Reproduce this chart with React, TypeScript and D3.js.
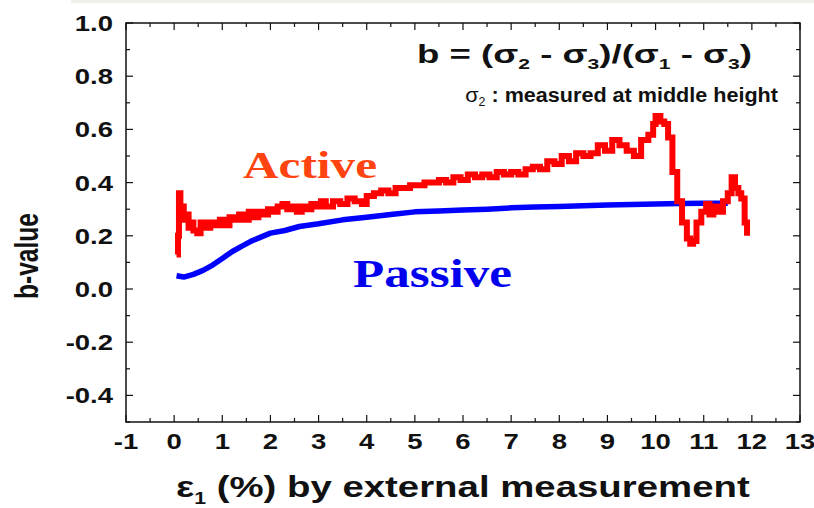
import React, { useEffect, useRef } from "react";
import * as d3 from "d3";

// Active curve (red): strain %, b-value
const activeX = [
  0.05, 0.08, 0.1, 0.13, 0.16, 0.2, 0.25, 0.3, 0.35, 0.4, 0.48, 0.55, 0.65, 0.75, 0.85, 0.95,
  1.05, 1.15, 1.25, 1.35, 1.45, 1.55, 1.65, 1.75, 1.85, 1.95, 2.05, 2.15, 2.25, 2.35, 2.45,
  2.55, 2.65, 2.75, 2.85, 2.95, 3.05, 3.15, 3.3, 3.45, 3.6, 3.75, 3.9, 4.0, 4.15, 4.3, 4.45,
  4.6, 4.75, 4.9, 5.05, 5.2, 5.35, 5.5, 5.65, 5.8, 5.95, 6.1, 6.25, 6.4, 6.55, 6.7, 6.85,
  7.0, 7.15, 7.3, 7.45, 7.6, 7.75, 7.9, 8.05, 8.2, 8.35, 8.5, 8.65, 8.8, 8.95, 9.1, 9.25,
  9.4, 9.55, 9.7, 9.85, 9.95, 10.0, 10.1, 10.18, 10.26, 10.35, 10.45, 10.55, 10.65, 10.72,
  10.78, 10.85, 10.95, 11.05, 11.12, 11.2, 11.3, 11.4, 11.5, 11.58, 11.65, 11.72, 11.78,
  11.85, 11.9,
];
const activeY = [
  0.13, 0.2, 0.36, 0.27, 0.31, 0.26, 0.28, 0.23, 0.25, 0.22, 0.21, 0.25, 0.23, 0.25, 0.24, 0.26,
  0.24, 0.27, 0.26, 0.28, 0.26, 0.29, 0.27, 0.29, 0.28, 0.3, 0.29, 0.31, 0.32, 0.3, 0.31,
  0.29, 0.31, 0.3, 0.32, 0.31, 0.33, 0.31, 0.33, 0.32, 0.34, 0.33, 0.32, 0.35, 0.36, 0.37, 0.36,
  0.38, 0.38, 0.39, 0.39, 0.4, 0.4, 0.41, 0.4, 0.42, 0.41, 0.43, 0.42, 0.43, 0.42, 0.44, 0.43,
  0.44, 0.43, 0.45, 0.46, 0.45, 0.48, 0.47, 0.5, 0.48, 0.51, 0.5, 0.51, 0.54, 0.52, 0.56, 0.54,
  0.52, 0.5, 0.56, 0.58, 0.62, 0.65, 0.63, 0.62, 0.57, 0.44, 0.33, 0.25, 0.19, 0.17,
  0.18, 0.25, 0.29, 0.32, 0.28, 0.31, 0.29, 0.33, 0.36, 0.42, 0.38, 0.36, 0.34,
  0.25, 0.2,
];

// Passive curve (blue)
const passiveX = [
  0.05, 0.2, 0.4, 0.6, 0.8, 1.0, 1.2, 1.4, 1.6, 1.8, 2.0, 2.3, 2.6, 3.0, 3.5, 4.0, 4.5, 5.0,
  5.5, 6.0, 6.5, 7.0, 7.5, 8.0, 8.5, 9.0, 9.5, 10.0, 10.5, 11.0, 11.5,
];
const passiveY = [
  0.05, 0.045, 0.055, 0.07, 0.09, 0.115, 0.14, 0.16, 0.18, 0.195, 0.21, 0.22, 0.235, 0.245,
  0.26, 0.27, 0.28, 0.29, 0.293, 0.297, 0.3, 0.305, 0.308, 0.31, 0.313, 0.316, 0.318, 0.32,
  0.321, 0.322, 0.322,
];

const xTicks = d3.range(-1, 14, 1);
const yTicks = [-0.4, -0.2, 0.0, 0.2, 0.4, 0.6, 0.8, 1.0];

export default function App() {
  const ref = useRef<SVGSVGElement>(null);

  useEffect(() => {
    const svg = d3.select(ref.current);
    svg.selectAll("*").remove();

    const left = 126, right = 800, top = 23, bottom = 422;
    const x = d3.scaleLinear().domain([-1, 13]).range([left, right]);
    const y = d3.scaleLinear().domain([-0.5, 1.0]).range([bottom, top]);
    const font = "'Liberation Sans', Arial, sans-serif";

    // puts a text at (px,py) and squeezes/stretches it horizontally to a width
    const fitText = (parent: any, px: number, py: number, anchor: string, size: number, width: number | null, sx = 1) => {
      const gg = parent.append("g");
      const t = gg.append("text")
        .attr("text-anchor", anchor)
        .style("font-family", font).style("font-size", size + "px").style("font-weight", "bold")
        .attr("fill", "#111");
      return {
        t,
        done: () => {
          let s = sx;
          if (width) {
            const w = (t.node() as SVGTextElement).getComputedTextLength();
            if (w > 0) s = width / w;
          }
          gg.attr("transform", `translate(${px},${py}) scale(${s},1)`);
        },
      };
    };

    // faint strip at top
    svg.append("rect").attr("x", 71).attr("y", 0).attr("width", 743).attr("height", 3).attr("fill", "#efefea");

    const g = svg.append("g");

    // frame
    g.append("rect")
      .attr("x", left).attr("y", top)
      .attr("width", right - left).attr("height", bottom - top)
      .attr("fill", "none").attr("stroke", "#111").attr("stroke-width", 1.5);

    // ticks, all pointing inward, mirrored on opposite sides
    const xMinor = d3.range(-1, 13.01, 0.5);
    xMinor.forEach((v) => {
      const len = Math.abs(v - Math.round(v)) < 1e-6 ? 7 : 4;
      g.append("line").attr("x1", x(v)).attr("x2", x(v)).attr("y1", bottom).attr("y2", bottom - len).attr("stroke", "#111").attr("stroke-width", 1.2);
      g.append("line").attr("x1", x(v)).attr("x2", x(v)).attr("y1", top).attr("y2", top + len).attr("stroke", "#111").attr("stroke-width", 1.2);
    });
    const yMinor = d3.range(-0.5, 1.001, 0.1);
    yMinor.forEach((v) => {
      const major = Math.abs(v * 5 - Math.round(v * 5)) < 1e-6;
      const len = major ? 7 : 4;
      g.append("line").attr("x1", left).attr("x2", left + len).attr("y1", y(v)).attr("y2", y(v)).attr("stroke", "#111").attr("stroke-width", 1.2);
      g.append("line").attr("x1", right).attr("x2", right - len).attr("y1", y(v)).attr("y2", y(v)).attr("stroke", "#111").attr("stroke-width", 1.2);
    });

    // tick labels (the source font is wide, so stretch a little)
    xTicks.forEach((d) => {
      const f = fitText(g, x(d), 449, "middle", 22, null, 1.25);
      f.t.text(String(d));
      f.done();
    });
    yTicks.forEach((d) => {
      const f = fitText(g, 113, y(d) + 8, "end", 22, null, 1.25);
      f.t.text(d.toFixed(1));
      f.done();
    });

    // y title
    g.append("text")
      .attr("transform", "translate(38,256) rotate(-90)")
      .attr("text-anchor", "middle")
      .attr("textLength", 86).attr("lengthAdjust", "spacingAndGlyphs")
      .style("font-family", font).style("font-size", "33px").style("font-weight", "bold")
      .attr("fill", "#111")
      .text("b-value");

    // x title
    const xt = fitText(g, 176, 497, "start", 29, 574);
    xt.t.append("tspan").text("ε");
    xt.t.append("tspan").attr("dy", 7).style("font-size", "16px").text("1");
    xt.t.append("tspan").attr("dy", -7).text(" (%) by external measurement");
    xt.done();

    // formula
    const ft = fitText(g, 752, 63, "end", 26, 335);
    const parts: [string, string][] = [["b = (σ", "2"], [" - σ", "3"], [")/(σ", "1"], [" - σ", "3"]];
    parts.forEach(([t, s], i) => {
      ft.t.append("tspan").attr("dy", i === 0 ? 0 : -6).text(t);
      ft.t.append("tspan").attr("dy", 6).style("font-size", "15px").text(s);
    });
    ft.t.append("tspan").attr("dy", -6).text(")");
    ft.done();

    // note
    const nt = fitText(g, 778, 102, "end", 21, 313);
    nt.t.append("tspan").style("font-weight", "normal").text("σ");
    nt.t.append("tspan").attr("dy", 4).style("font-size", "12px").style("font-weight", "normal").text("2");
    nt.t.append("tspan").attr("dy", -4).text(" : measured at middle height");
    nt.done();

    // curves
    const line = d3.line<[number, number]>().x((d) => x(d[0])).y((d) => y(d[1]));
    const passive = passiveX.map((v, i) => [v, passiveY[i]] as [number, number]);
    const active = activeX.map((v, i) => [v, activeY[i]] as [number, number]);

    g.append("path").attr("d", line(passive)!)
      .attr("fill", "none").attr("stroke", "#0000ff").attr("stroke-width", 5.5)
      .attr("stroke-linejoin", "round");
    g.append("path").attr("d", line.curve(d3.curveStepAfter)(active)!)
      .attr("fill", "none").attr("stroke", "#ff0000").attr("stroke-width", 6)
      .attr("stroke-linejoin", "miter");

    // curve labels
    g.append("text")
      .attr("x", 243).attr("y", 178)
      .attr("textLength", 134).attr("lengthAdjust", "spacingAndGlyphs")
      .style("font-family", "'Liberation Serif', 'Times New Roman', serif")
      .style("font-size", "37px").style("font-weight", "bold")
      .attr("fill", "#ff4411")
      .text("Active");
    g.append("text")
      .attr("x", 353).attr("y", 287)
      .attr("textLength", 159).attr("lengthAdjust", "spacingAndGlyphs")
      .style("font-family", "'Liberation Serif', 'Times New Roman', serif")
      .style("font-size", "39px").style("font-weight", "bold")
      .attr("fill", "#0000ee")
      .text("Passive");
  }, []);

  return (
    <svg ref={ref} width={814} height={508} style={{ display: "block", position: "absolute", left: 0, top: 0 }} />
  );
}
